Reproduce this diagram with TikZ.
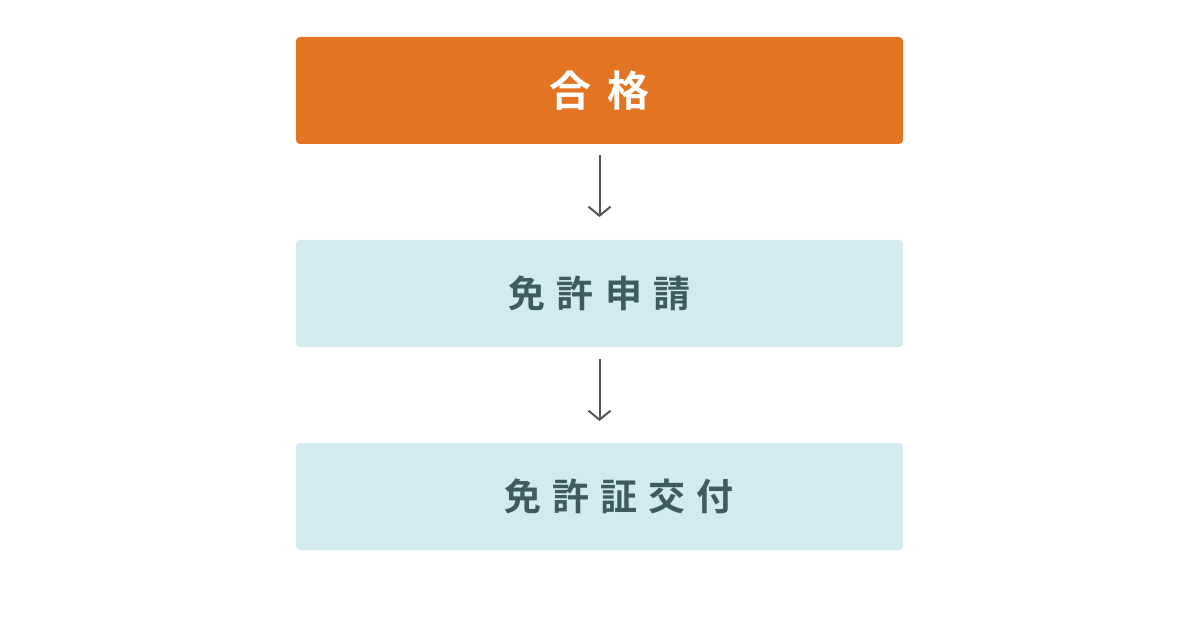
\documentclass[tikz,border=0pt]{standalone}
\usepackage{fontspec}
\newfontfamily\cjka[LetterSpace=40]{Noto Sans CJK JP Bold}
\newfontfamily\cjkb[LetterSpace=30]{Noto Sans CJK JP Bold}
\usetikzlibrary{arrows.meta}
\definecolor{orng}{HTML}{E37422}
\definecolor{lblue}{HTML}{D3EAF0}
\definecolor{dtext}{HTML}{3F5A60}
\definecolor{agray}{HTML}{555555}
\tikzset{
 boxbase/.style={minimum width=607pt,minimum height=107pt,rounded corners=4pt,inner sep=0pt},
 topbox/.style={boxbase,fill=orng,text=white,font=\cjka\fontsize{42}{46}\selectfont},
 stepbox/.style={boxbase,fill=lblue,text=dtext,font=\cjkb\fontsize{37}{41}\selectfont},
 flowarrow/.style={draw=agray,line width=2pt,-{Straight Barb[length=9pt,width=22pt,line width=2pt]}}
}
\begin{document}
\begin{tikzpicture}[x=1pt,y=1pt]
\useasboundingbox (0,0) rectangle (1200,630);
\node[topbox] (a) at (599.5,539.5) {合格};
\node[stepbox] (b) at (599.5,336.5) {免許申請};
\node[stepbox] (c) at (599.5,133.5) {};
\node[text=dtext,font=\cjkb\fontsize{37}{41}\selectfont,anchor=west,inner sep=0pt] (ct) at (504,133.5) {免許証交付};
\coordinate (a1) at (599.5,475);
\coordinate (a2) at (599.5,413);
\coordinate (b1) at (599.5,271);
\coordinate (b2) at (599.5,209);
\draw[flowarrow] (a1) -- (a2);
\draw[flowarrow] (b1) -- (b2);
\end{tikzpicture}
\end{document}
